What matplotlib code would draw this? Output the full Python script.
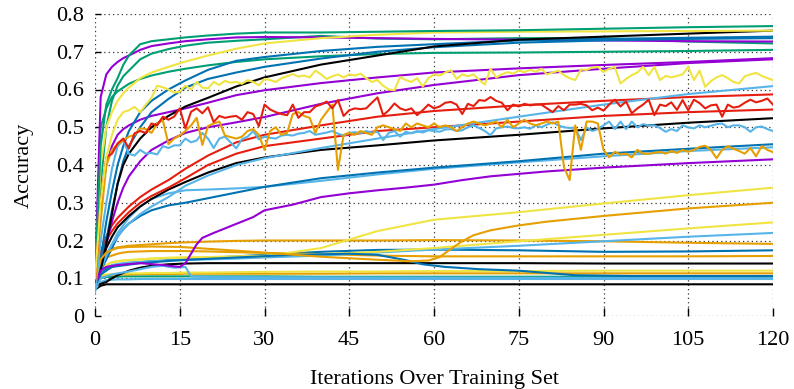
import matplotlib
matplotlib.use("Agg")
import matplotlib.pyplot as plt
import numpy as np

plt.rcParams['font.family'] = ['Liberation Serif', 'DejaVu Serif']

# gnuplot default line colours
PURPLE = '#9400d3'
GREEN = '#009e73'
LBLUE = '#56b4e9'
ORANGE = '#e69f00'
YELLOW = '#f0e442'
BLUE = '#0072b2'
RED = '#e51e10'
BLACK = '#000000'

# shared sample points for the smooth runs
sx = [0, 1, 2, 3, 4, 5, 6, 8, 10, 13, 16, 20, 25, 30, 40, 50, 60, 75, 90, 105, 120]

green_a = [0.10, 0.45, 0.56, 0.60, 0.63, 0.665, 0.69, 0.72, 0.728, 0.733, 0.738, 0.743, 0.748, 0.751, 0.751, 0.753, 0.755, 0.757, 0.761, 0.765, 0.768]
yellow_a = [0.10, 0.40, 0.50, 0.54, 0.57, 0.59, 0.605, 0.63, 0.645, 0.66, 0.674, 0.69, 0.708, 0.722, 0.736, 0.745, 0.751, 0.753, 0.754, 0.755, 0.756]
black_a = [0.08, 0.12, 0.19, 0.27, 0.35, 0.40, 0.43, 0.47, 0.50, 0.53, 0.555, 0.578, 0.608, 0.632, 0.666, 0.69, 0.714, 0.732, 0.74, 0.748, 0.756]
blue_a = [0.10, 0.15, 0.25, 0.33, 0.40, 0.45, 0.49, 0.54, 0.57, 0.60, 0.624, 0.652, 0.676, 0.686, 0.702, 0.713, 0.72, 0.73, 0.734, 0.737, 0.74]
blue_b = [0.10, 0.13, 0.20, 0.28, 0.35, 0.41, 0.45, 0.50, 0.54, 0.575, 0.605, 0.628, 0.645, 0.66, 0.682, 0.70, 0.712, 0.724, 0.73, 0.734, 0.736]
purple_a = [0.09, 0.58, 0.64, 0.66, 0.673, 0.683, 0.69, 0.705, 0.715, 0.722, 0.728, 0.733, 0.738, 0.739, 0.738, 0.736, 0.734, 0.732, 0.73, 0.728, 0.727]
green_b = [0.10, 0.35, 0.50, 0.57, 0.61, 0.635, 0.65, 0.68, 0.695, 0.707, 0.716, 0.724, 0.729, 0.733, 0.742, 0.735, 0.733, 0.736, 0.736, 0.727, 0.722]
green_c = [0.10, 0.50, 0.55, 0.58, 0.595, 0.605, 0.615, 0.628, 0.637, 0.647, 0.655, 0.664, 0.673, 0.68, 0.688, 0.694, 0.697, 0.698, 0.70, 0.702, 0.705]
purple_b = [0.09, 0.30, 0.40, 0.45, 0.48, 0.495, 0.505, 0.52, 0.53, 0.54, 0.55, 0.565, 0.585, 0.598, 0.617, 0.632, 0.645, 0.656, 0.665, 0.673, 0.683]
purple_c = [0.09, 0.13, 0.19, 0.25, 0.30, 0.34, 0.37, 0.41, 0.44, 0.465, 0.485, 0.50, 0.513, 0.527, 0.562, 0.59, 0.612, 0.638, 0.655, 0.67, 0.68]
lblue_a = [0.07, 0.12, 0.16, 0.19, 0.21, 0.23, 0.245, 0.27, 0.29, 0.315, 0.345, 0.372, 0.40, 0.418, 0.445, 0.47, 0.495, 0.528, 0.56, 0.588, 0.609]
red_a = [0.09, 0.17, 0.21, 0.24, 0.26, 0.275, 0.29, 0.315, 0.335, 0.36, 0.39, 0.425, 0.46, 0.48, 0.505, 0.528, 0.543, 0.558, 0.57, 0.58, 0.587]
red_b = [0.09, 0.16, 0.20, 0.225, 0.245, 0.26, 0.275, 0.30, 0.318, 0.34, 0.365, 0.40, 0.43, 0.45, 0.47, 0.49, 0.50, 0.515, 0.53, 0.54, 0.547]
black_b = [0.08, 0.14, 0.18, 0.21, 0.235, 0.25, 0.265, 0.29, 0.31, 0.335, 0.355, 0.38, 0.405, 0.42, 0.44, 0.452, 0.465, 0.48, 0.497, 0.512, 0.524]
blue_c = [0.08, 0.12, 0.15, 0.18, 0.21, 0.23, 0.245, 0.265, 0.28, 0.293, 0.30, 0.312, 0.327, 0.342, 0.365, 0.38, 0.393, 0.41, 0.43, 0.443, 0.455]
lblue_b = [0.08, 0.12, 0.16, 0.19, 0.22, 0.24, 0.26, 0.29, 0.31, 0.325, 0.333, 0.335, 0.338, 0.342, 0.358, 0.375, 0.39, 0.407, 0.423, 0.437, 0.447]
yellow_c = [0.09, 0.12, 0.135, 0.142, 0.145, 0.147, 0.148, 0.15, 0.152, 0.154, 0.155, 0.156, 0.157, 0.158, 0.18, 0.225, 0.255, 0.275, 0.298, 0.32, 0.34]
yellow_d = [0.09, 0.12, 0.135, 0.142, 0.145, 0.147, 0.148, 0.15, 0.152, 0.154, 0.155, 0.156, 0.158, 0.16, 0.164, 0.17, 0.18, 0.198, 0.215, 0.232, 0.248]
lblue_c = [0.08, 0.12, 0.13, 0.135, 0.138, 0.14, 0.142, 0.143, 0.145, 0.147, 0.148, 0.15, 0.152, 0.155, 0.16, 0.168, 0.176, 0.186, 0.198, 0.21, 0.22]
orange_b = [0.09, 0.15, 0.17, 0.178, 0.182, 0.184, 0.186, 0.188, 0.19, 0.193, 0.195, 0.197, 0.199, 0.20, 0.20, 0.20, 0.201, 0.20, 0.198, 0.194, 0.191]
orange_d = [0.09, 0.14, 0.155, 0.16, 0.165, 0.168, 0.17, 0.171, 0.172, 0.172, 0.172, 0.171, 0.169, 0.167, 0.164, 0.16, 0.158, 0.158, 0.158, 0.158, 0.159]
blue_d = [0.08, 0.11, 0.125, 0.13, 0.135, 0.138, 0.14, 0.143, 0.145, 0.148, 0.15, 0.154, 0.158, 0.162, 0.17, 0.175, 0.176, 0.174, 0.17, 0.171, 0.174]
black_c = [0.08, 0.085, 0.09, 0.10, 0.108, 0.114, 0.12, 0.128, 0.133, 0.137, 0.139, 0.14, 0.14, 0.14, 0.14, 0.14, 0.14, 0.14, 0.139, 0.139, 0.139]
black_d = [0.07, 0.08, 0.084, 0.084, 0.084, 0.084, 0.084, 0.084, 0.084, 0.084, 0.084, 0.084, 0.084, 0.084, 0.084, 0.084, 0.084, 0.084, 0.084, 0.084, 0.084]
yellow_e = [0.10, 0.108, 0.11, 0.111, 0.112, 0.112, 0.113, 0.113, 0.114, 0.114, 0.115, 0.115, 0.116, 0.117, 0.118, 0.118, 0.119, 0.119, 0.12, 0.12, 0.12]
orange_e = [0.10, 0.105, 0.108, 0.109, 0.11, 0.11, 0.11, 0.111, 0.111, 0.111, 0.112, 0.112, 0.112, 0.112, 0.112, 0.113, 0.113, 0.113, 0.113, 0.113, 0.113]
green_d = [0.08, 0.1, 0.103, 0.104, 0.104, 0.105, 0.105, 0.105, 0.105, 0.105, 0.105, 0.105, 0.105, 0.105, 0.104, 0.104, 0.104, 0.104, 0.104, 0.104, 0.104]
lblue_e = [0.07, 0.09, 0.095, 0.096, 0.097, 0.097, 0.097, 0.098, 0.098, 0.098, 0.098, 0.098, 0.098, 0.098, 0.098, 0.098, 0.098, 0.098, 0.098, 0.098, 0.098]

# runs with their own sample points
purple_d_x = [0, 1, 2, 4, 8, 12, 15, 16, 17, 18, 19, 21, 23, 26, 28, 30, 35, 40, 45, 50, 55, 60, 65, 70, 80, 90, 105, 120]
purple_d = [0.08, 0.12, 0.13, 0.135, 0.14, 0.135, 0.13, 0.14, 0.165, 0.19, 0.207, 0.22, 0.232, 0.25, 0.262, 0.28, 0.295, 0.315, 0.325, 0.333, 0.34, 0.348, 0.36, 0.37, 0.383, 0.393, 0.405, 0.415]
orange_c_x = [0, 1, 2, 3, 4, 6, 10, 15, 20, 30, 40, 50, 56, 59, 61, 63, 65, 67, 70, 75, 80, 90, 105, 120]
orange_c = [0.09, 0.15, 0.168, 0.175, 0.18, 0.183, 0.184, 0.183, 0.178, 0.168, 0.157, 0.149, 0.145, 0.147, 0.156, 0.178, 0.198, 0.214, 0.227, 0.24, 0.25, 0.265, 0.285, 0.30]
blue_e_x = [0, 1, 3, 8, 15, 25, 35, 45, 50, 55, 58, 62, 68, 75, 85, 95, 120]
blue_e = [0.08, 0.11, 0.13, 0.14, 0.148, 0.155, 0.162, 0.165, 0.162, 0.148, 0.137, 0.13, 0.124, 0.12, 0.108, 0.106, 0.106]
lblue_d_x = [0, 1, 3, 6, 10, 12, 14, 16, 17, 20, 60, 120]
lblue_d = [0.07, 0.10, 0.11, 0.118, 0.13, 0.133, 0.128, 0.13, 0.105, 0.103, 0.102, 0.10]

# noisy runs, one value per iteration 0..120
iters = np.arange(121)
yellow_n = [0.10, 0.30, 0.42, 0.48, 0.52, 0.54, 0.545, 0.554, 0.54, 0.56, 0.578, 0.61, 0.606, 0.60, 0.592, 0.594, 0.61, 0.60, 0.62, 0.605,
            0.603, 0.62, 0.612, 0.623, 0.618, 0.62, 0.615, 0.625, 0.62, 0.611, 0.628, 0.625, 0.62, 0.63, 0.635, 0.641, 0.634, 0.637, 0.632, 0.65,
            0.64, 0.628, 0.635, 0.64, 0.632, 0.64, 0.637, 0.642, 0.63, 0.62, 0.625, 0.61, 0.60, 0.598, 0.633, 0.625, 0.62, 0.63, 0.608, 0.63,
            0.64, 0.637, 0.645, 0.651, 0.628, 0.64, 0.635, 0.64, 0.625, 0.613, 0.655, 0.632, 0.64, 0.646, 0.642, 0.65, 0.646, 0.652, 0.647, 0.655,
            0.64, 0.645, 0.65, 0.638, 0.63, 0.625, 0.653, 0.652, 0.658, 0.66, 0.646, 0.655, 0.66, 0.616, 0.628, 0.638, 0.645, 0.66, 0.638, 0.66,
            0.625, 0.636, 0.632, 0.636, 0.64, 0.66, 0.625, 0.65, 0.607, 0.622, 0.632, 0.638, 0.63, 0.62, 0.616, 0.635, 0.64, 0.644, 0.636, 0.63,
            0.625]
red_n = [0.09, 0.30, 0.42, 0.43, 0.457, 0.47, 0.444, 0.484, 0.49, 0.485, 0.51, 0.505, 0.528, 0.52, 0.528, 0.55, 0.497, 0.541, 0.55, 0.537,
         0.553, 0.514, 0.53, 0.525, 0.528, 0.53, 0.52, 0.54, 0.535, 0.503, 0.56, 0.547, 0.54, 0.535, 0.532, 0.56, 0.525, 0.54, 0.54, 0.555,
         0.56, 0.568, 0.55, 0.572, 0.53, 0.545, 0.55, 0.548, 0.55, 0.565, 0.579, 0.532, 0.545, 0.563, 0.55, 0.545, 0.55, 0.532, 0.545, 0.56,
         0.55, 0.555, 0.565, 0.567, 0.56, 0.535, 0.562, 0.556, 0.572, 0.57, 0.58, 0.57, 0.565, 0.545, 0.56, 0.555, 0.562, 0.558, 0.56, 0.56,
         0.55, 0.54, 0.556, 0.545, 0.56, 0.56, 0.562, 0.558, 0.545, 0.552, 0.544, 0.56, 0.573, 0.555, 0.568, 0.537, 0.55, 0.56, 0.573, 0.532,
         0.56, 0.556, 0.566, 0.546, 0.572, 0.545, 0.573, 0.564, 0.55, 0.558, 0.56, 0.528, 0.56, 0.552, 0.555, 0.565, 0.573, 0.566, 0.57, 0.576,
         0.56]
orange_n = [0.09, 0.25, 0.40, 0.44, 0.455, 0.466, 0.475, 0.48, 0.497, 0.495, 0.485, 0.51, 0.519, 0.455, 0.47, 0.478, 0.49, 0.505, 0.525, 0.453,
            0.503, 0.51, 0.515, 0.478, 0.474, 0.47, 0.475, 0.49, 0.495, 0.48, 0.44, 0.49, 0.50, 0.48, 0.485, 0.535, 0.54, 0.53, 0.525, 0.485,
            0.52, 0.54, 0.56, 0.387, 0.48, 0.485, 0.48, 0.49, 0.485, 0.48, 0.50, 0.505, 0.50, 0.495, 0.49, 0.51, 0.50, 0.51, 0.505, 0.50,
            0.51, 0.50, 0.505, 0.50, 0.49, 0.50, 0.51, 0.515, 0.51, 0.505, 0.51, 0.515, 0.50, 0.52, 0.50, 0.51, 0.52, 0.51, 0.505, 0.51,
            0.515, 0.51, 0.515, 0.395, 0.36, 0.505, 0.44, 0.515, 0.515, 0.51, 0.44, 0.42, 0.435, 0.428, 0.43, 0.42, 0.44, 0.43, 0.43, 0.432,
            0.435, 0.43, 0.437, 0.432, 0.44, 0.435, 0.44, 0.448, 0.451, 0.44, 0.418, 0.44, 0.45, 0.443, 0.437, 0.43, 0.445, 0.423, 0.45, 0.44,
            0.434]
lblue_n = [0.06, 0.20, 0.30, 0.39, 0.45, 0.465, 0.43, 0.425, 0.44, 0.43, 0.432, 0.428, 0.45, 0.445, 0.452, 0.452, 0.47, 0.46, 0.465, 0.485,
           0.47, 0.445, 0.47, 0.475, 0.46, 0.444, 0.468, 0.475, 0.49, 0.468, 0.475, 0.472, 0.47, 0.478, 0.48, 0.478, 0.483, 0.485, 0.49, 0.48,
           0.483, 0.486, 0.49, 0.483, 0.478, 0.485, 0.487, 0.484, 0.49, 0.486, 0.488, 0.466, 0.485, 0.49, 0.475, 0.488, 0.484, 0.49, 0.486, 0.492,
           0.49, 0.488, 0.494, 0.495, 0.49, 0.492, 0.50, 0.505, 0.498, 0.49, 0.479, 0.497, 0.50, 0.502, 0.498, 0.497, 0.50, 0.496, 0.505, 0.50,
           0.507, 0.513, 0.505, 0.50, 0.498, 0.499, 0.466, 0.50, 0.49, 0.495, 0.505, 0.515, 0.495, 0.515, 0.495, 0.515, 0.50, 0.508, 0.505, 0.505,
           0.498, 0.488, 0.495, 0.49, 0.505, 0.50, 0.497, 0.505, 0.50, 0.504, 0.508, 0.51, 0.50, 0.505, 0.505, 0.50, 0.488, 0.50, 0.502, 0.495,
           0.49]

fig = plt.figure(figsize=(7.94, 3.89), dpi=100)
ax = fig.add_axes([95 / 794, 1 - 316 / 389, 678 / 794, 302 / 389])

lw = 1.5
smooth = [
    (black_d, BLACK), (lblue_e, LBLUE), (green_d, GREEN), (orange_e, ORANGE), (yellow_e, YELLOW),
    (black_c, BLACK), (blue_d, BLUE), (orange_d, ORANGE), (orange_b, ORANGE), (lblue_c, LBLUE),
    (yellow_d, YELLOW), (yellow_c, YELLOW), (lblue_b, LBLUE), (blue_c, BLUE), (black_b, BLACK),
    (red_b, RED), (red_a, RED), (lblue_a, LBLUE), (purple_c, PURPLE), (purple_b, PURPLE),
    (green_c, GREEN), (green_b, GREEN), (purple_a, PURPLE), (blue_b, BLUE), (blue_a, BLUE),
    (black_a, BLACK), (yellow_a, YELLOW), (green_a, GREEN),
]
for ys, c in smooth:
    ax.plot(sx, ys, color=c, lw=lw)

ax.plot(lblue_d_x, lblue_d, color=LBLUE, lw=lw)
ax.plot(blue_e_x, blue_e, color=BLUE, lw=lw)
ax.plot(orange_c_x, orange_c, color=ORANGE, lw=lw)
ax.plot(purple_d_x, purple_d, color=PURPLE, lw=lw)

ax.plot(iters, lblue_n, color=LBLUE, lw=lw)
ax.plot(iters, orange_n, color=ORANGE, lw=lw)
ax.plot(iters, red_n, color=RED, lw=lw)
ax.plot(iters, yellow_n, color=YELLOW, lw=lw)

ax.set_xlim(0, 120)
ax.set_ylim(0, 0.8)
ax.set_xticks(range(0, 121, 15))
yt = [i / 10 for i in range(9)]
ax.set_yticks(yt)
ax.set_yticklabels(['0'] + ['%.1f' % v for v in yt[1:]])

for s in ax.spines.values():
    s.set_visible(False)
ax.set_axisbelow(True)
ax.grid(True, color='#333333', linestyle=(0, (1, 2.5)), linewidth=0.9)
ax.tick_params(axis='x', direction='in', length=6, width=1, labelsize=16, pad=11)
ax.tick_params(axis='y', direction='in', length=4, width=1, labelsize=16, pad=8)

ax.set_xlabel('Iterations Over Training Set', fontsize=16, labelpad=14)
ax.set_ylabel('Accuracy', fontsize=16, labelpad=16)

fig.savefig('out.png', dpi=100)
